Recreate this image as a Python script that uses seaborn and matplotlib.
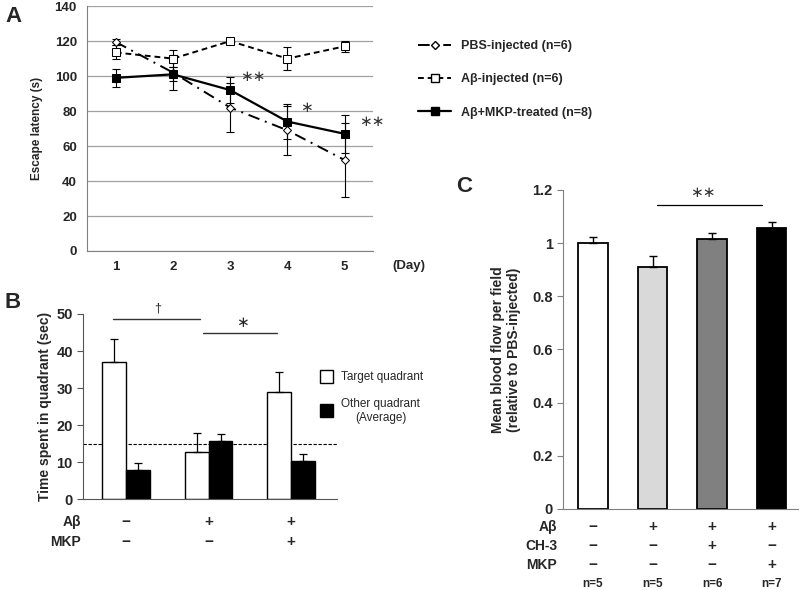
import numpy as np
import pandas as pd
import matplotlib
matplotlib.use("Agg")
import matplotlib.pyplot as plt
from matplotlib.lines import Line2D
from matplotlib.patches import Rectangle
import seaborn as sns

# ─── Panel A data ───
days = [1, 2, 3, 4, 5]
pbs_mean = [119.5, 102, 82, 69, 52]
pbs_err = [1.5, 10, 14, 14, 21]
abeta_mean = [113.5, 110, 120, 110, 117]
abeta_err = [4, 5, 1, 6.5, 3]
mkp_mean = [99, 101, 92, 74, 67]
mkp_err = [5, 4, 7.5, 10, 11]

# ─── Panel B data ───
b_groups = ["PBS", "Ab", "Ab+MKP"]
target_mean = [37, 12.8, 29]
target_err = [6.2, 5.0, 5.2]
other_mean = [7.8, 15.8, 10.4]
other_err = [2.0, 1.7, 1.7]
b_row_abeta = ["−", "+", "+"]
b_row_mkp = ["−", "−", "+"]

# ─── Panel C data ───
c_groups = ["PBS", "Ab", "Ab+CH3", "Ab+MKP"]
c_mean = [1.0, 0.91, 1.017, 1.057]
c_err = [0.025, 0.042, 0.022, 0.024]
c_colors = ["#ffffff", "#d9d9d9", "#808080", "#000000"]
c_row_abeta = ["−", "+", "+", "+"]
c_row_ch3 = ["−", "−", "+", "−"]
c_row_mkp = ["−", "−", "−", "+"]
c_n = ["n=5", "n=5", "n=6", "n=7"]

sns.set_style("white")
plt.rcParams["font.family"] = ["Liberation Sans", "DejaVu Sans"]
plt.rcParams["font.weight"] = "bold"

fig = plt.figure(figsize=(8, 5.9), dpi=100)
SPINE = "#808080"

# ─── Panel A ───
axA = fig.add_axes([0.109, 0.5746, 0.3575, 0.415])
dfA = pd.DataFrame({"day": days, "pbs": pbs_mean, "ab": abeta_mean, "mkp": mkp_mean})
series = [
    ("pbs", pbs_mean, pbs_err, dict(linestyle=(0, (6, 3, 1, 3)), marker="D", markersize=4,
                                    markerfacecolor="white", markeredgecolor="black")),
    ("ab", abeta_mean, abeta_err, dict(linestyle=(0, (3, 2)), marker="s", markersize=6,
                                       markerfacecolor="white", markeredgecolor="black")),
    ("mkp", mkp_mean, mkp_err, dict(linestyle="-", marker="s", markersize=6,
                                    markerfacecolor="black", markeredgecolor="black")),
]
for col, m, e, st in series:
    axA.errorbar(days, m, yerr=e, fmt="none", ecolor="black", elinewidth=0.8,
                 capsize=3, capthick=0.8, zorder=2)
    sns.lineplot(data=dfA, x="day", y=col, ax=axA, color="black",
                 linewidth=1.6 if col == "mkp" else 1.4, zorder=3, **st)

axA.set_xlim(0.5, 5.5)
axA.set_ylim(0, 140)
axA.set_yticks(range(0, 141, 20))
axA.set_xticks(days)
axA.yaxis.grid(True, color="#a0a0a0", linewidth=0.9)
axA.set_axisbelow(True)
for s in ["top", "right"]:
    axA.spines[s].set_visible(False)
for s in ["left", "bottom"]:
    axA.spines[s].set_color(SPINE)
axA.tick_params(axis="y", length=4, color=SPINE, labelsize=9.5)
axA.tick_params(axis="x", length=0, labelsize=9.5, pad=7)
axA.set_xlabel("")
axA.set_ylabel("Escape latency (s)", fontsize=8.5, fontweight="bold", labelpad=8)
fig.text(0.491, 0.549, "(Day)", fontsize=9.5, fontweight="bold", va="center")

for x, y, t in [(3.39, 99.5, "∗∗"), (4.33, 82, "∗"), (5.48, 74, "∗∗")]:
    axA.text(x, y, t, fontsize=11, ha="center", va="center", color="#333333",
             fontweight="normal", family=["DejaVu Sans"], clip_on=False)

handles = [
    Line2D([], [], color="black", linestyle=(0, (6, 3, 1, 3)), marker="D", markersize=4,
           markerfacecolor="white", linewidth=1.4),
    Line2D([], [], color="black", linestyle=(0, (3, 2)), marker="s", markersize=6,
           markerfacecolor="white", linewidth=1.4),
    Line2D([], [], color="black", linestyle="-", marker="s", markersize=6,
           markerfacecolor="black", linewidth=1.6),
]
labels = ["PBS-injected (n=6)", "Aβ-injected (n=6)", "Aβ+MKP-treated (n=8)"]
fig.legend(handles, labels, loc="upper left", bbox_to_anchor=(0.508, 0.951), frameon=False,
           prop=dict(size=9, weight="bold"), handlelength=2.7, labelspacing=1.7,
           handletextpad=0.8)

# ─── Panel B ───
axB = fig.add_axes([0.104, 0.1542, 0.3175, 0.3136])
dfB = pd.DataFrame({
    "group": b_groups * 2,
    "quad": ["Target"] * 3 + ["Other"] * 3,
    "time": target_mean + other_mean,
})
sns.barplot(data=dfB, x="group", y="time", hue="quad", palette=["white", "black"],
            edgecolor="black", linewidth=1.0, width=0.58, errorbar=None, legend=False, ax=axB)
bw = 0.58 / 2
for i in range(3):
    axB.errorbar(i - bw / 2, target_mean[i], yerr=[[0], [target_err[i]]], fmt="none",
                 ecolor="black", elinewidth=0.9, capsize=3, capthick=0.9)
    axB.errorbar(i + bw / 2, other_mean[i], yerr=[[0], [other_err[i]]], fmt="none",
                 ecolor="black", elinewidth=0.9, capsize=3, capthick=0.9)
axB.axhline(15, color="black", linestyle=(0, (3, 1.5)), linewidth=0.8, zorder=0)
axB.set_xlim(-0.52, 2.56)
axB.set_ylim(0, 50)
axB.set_yticks(range(0, 51, 10))
axB.set_xticks([])
axB.set_xlabel("")
axB.set_ylabel("Time spent in quadrant (sec)", fontsize=10, fontweight="bold", labelpad=3)
for s in ["top", "right"]:
    axB.spines[s].set_visible(False)
for s in ["left", "bottom"]:
    axB.spines[s].set_color("#555555")
axB.tick_params(axis="y", length=4, color="#555555", labelsize=10.5, left=True)

axB.plot([-0.16, 0.90], [48.6, 48.6], color="#333333", linewidth=1.0, clip_on=False)
axB.text(0.38, 51.5, "†", ha="center", va="center", fontsize=9, fontweight="normal")
axB.plot([0.935, 1.83], [44.9, 44.9], color="#333333", linewidth=1.0, clip_on=False)
axB.text(1.41, 47.8, "∗", ha="center", va="center", fontsize=11, fontweight="normal",
         family=["DejaVu Sans"])

tr = axB.get_xaxis_transform()
axB.text(-0.01, -0.124, "Aβ", transform=axB.transAxes, ha="right", va="center", fontsize=10)
axB.text(-0.01, -0.232, "MKP", transform=axB.transAxes, ha="right", va="center", fontsize=10)
for i in range(3):
    axB.text(i, -0.124, b_row_abeta[i], transform=tr, ha="center", va="center", fontsize=11)
    axB.text(i, -0.232, b_row_mkp[i], transform=tr, ha="center", va="center", fontsize=11)

# legend for B
fig.add_artist(Rectangle((320 / 800, 1 - 383 / 590), 13 / 800, 13 / 590, transform=fig.transFigure,
                         facecolor="white", edgecolor="black", linewidth=1.0))
fig.add_artist(Rectangle((320 / 800, 1 - 417 / 590), 13 / 800, 13 / 590, transform=fig.transFigure,
                         facecolor="black", edgecolor="black", linewidth=1.0))
fig.text(341 / 800, 1 - 377 / 590, "Target quadrant", fontsize=8.5, fontweight="normal",
         va="center")
fig.text(341 / 800, 1 - 411 / 590, "Other quadrant\n(Average)", fontsize=8.5, fontweight="normal",
         va="center", multialignment="center", linespacing=1.2)

# ─── Panel C ───
axC = fig.add_axes([0.704, 0.1373, 0.294, 0.5407])
dfC = pd.DataFrame({"group": c_groups, "flow": c_mean})
sns.barplot(data=dfC, x="group", y="flow", hue="group", palette=c_colors, edgecolor="black",
            linewidth=1.3, width=0.5, errorbar=None, legend=False, ax=axC)
for i in range(4):
    axC.errorbar(i, c_mean[i], yerr=[[0], [c_err[i]]], fmt="none", ecolor="black",
                 elinewidth=1.0, capsize=3, capthick=1.0)
axC.set_xlim(-0.5, 3.45)
axC.set_ylim(0, 1.2)
axC.set_yticks([0, 0.2, 0.4, 0.6, 0.8, 1.0, 1.2])
axC.set_yticklabels(["0", "0.2", "0.4", "0.6", "0.8", "1", "1.2"])
axC.set_xticks([])
axC.set_xlabel("")
axC.set_ylabel("Mean blood flow per field\n(relative to PBS-injected)", fontsize=10,
               fontweight="bold", labelpad=8)
for s in ["top", "right"]:
    axC.spines[s].set_visible(False)
for s in ["left", "bottom"]:
    axC.spines[s].set_color(SPINE)
axC.tick_params(axis="y", length=4, color=SPINE, labelsize=10.5, left=True)

axC.plot([1.08, 2.84], [1.143, 1.143], color="black", linewidth=0.9, clip_on=False)
axC.text(1.85, 1.19, "∗∗", ha="center", va="center", fontsize=11, fontweight="normal",
         color="#333333", family=["DejaVu Sans"], clip_on=False)

trC = axC.get_xaxis_transform()
rows = [("Aβ", c_row_abeta, -0.056), ("CH-3", c_row_ch3, -0.116), ("MKP", c_row_mkp, -0.176)]
for name, vals, y in rows:
    axC.text(-0.025, y, name, transform=axC.transAxes, ha="right", va="center", fontsize=10)
    for i in range(4):
        axC.text(i, y, vals[i], transform=trC, ha="center", va="center", fontsize=11)
for i in range(4):
    axC.text(i, -0.235, c_n[i], transform=trC, ha="center", va="center", fontsize=8.5)

# panel letters
fig.text(5 / 800, 1 - 17 / 590, "A", fontsize=16, fontweight="bold", va="center")
fig.text(5 / 800, 1 - 303 / 590, "B", fontsize=16, fontweight="bold", va="center")
fig.text(456 / 800, 1 - 186 / 590, "C", fontsize=16, fontweight="bold", va="center")

fig.savefig("out.png", dpi=100)
